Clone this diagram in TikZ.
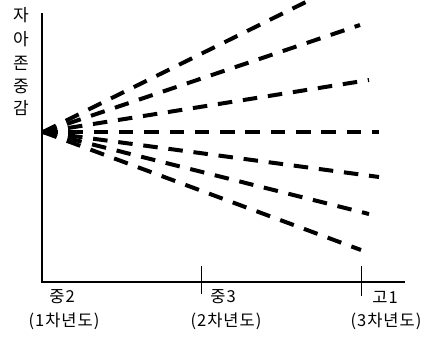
\documentclass[tikz,border=0pt]{standalone}
\usepackage{fontspec}
\newfontfamily\kr[LetterSpace=6]{Noto Sans CJK KR}
\newfontfamily\kry{Noto Sans CJK KR}
\begin{document}
\begin{tikzpicture}[x=1pt,y=-1pt,
  axis/.style={line width=2pt},
  tick/.style={line width=1pt},
  fan/.style={line width=4pt, dash pattern=on 14.5pt off 10.8pt},
  lbl/.style={font=\kr\fontsize{16.5}{18}\selectfont, inner sep=0pt},
  ylbl/.style={font=\kry\fontsize{17}{18}\selectfont, inner sep=0pt}]
\useasboundingbox (0,0) rectangle (429,338);
\clip (0,0) rectangle (429,338);
% axes
\coordinate (ytop) at (42,13);
\coordinate (orig) at (42,282);
\coordinate (xend) at (405,282);
\draw[axis] (ytop) -- (orig) -- (xend);
\coordinate (t2a) at (201,266); \coordinate (t2b) at (201,294);
\coordinate (t3a) at (361,266); \coordinate (t3b) at (361,296);
\draw[tick] (t2a) -- (t2b);
\draw[tick] (t3a) -- (t3b);
% fan
\coordinate (O) at (43,132);
\coordinate (e1) at (320,-5);
\coordinate (e2) at (360,25);
\coordinate (e3) at (369,80);
\coordinate (e4) at (379,132);
\coordinate (e5) at (379,177);
\coordinate (e6) at (369,214);
\coordinate (e7) at (361,250);
\foreach \e in {e1,e2,e3,e4,e5,e6,e7} \draw[fan] (O) -- (\e);
% y label
\node[ylbl] (y1) at (21,15) {자};
\node[ylbl] (y2) at (21,39.5) {아};
\node[ylbl] (y3) at (21,63) {존};
\node[ylbl] (y4) at (21,86.5) {중};
\node[ylbl] (y5) at (21,108.5) {감};
% x labels
\node[lbl] (a1) at (62,297) {중2};
\node[lbl] (a2) at (64,321) {(1차년도)};
\node[lbl] (b1) at (223,297) {중3};
\node[lbl] (b2) at (226,321) {(2차년도)};
\node[lbl] (c1) at (385,297) {고1};
\node[lbl] (c2) at (386,321) {(3차년도)};
\end{tikzpicture}
\end{document}
